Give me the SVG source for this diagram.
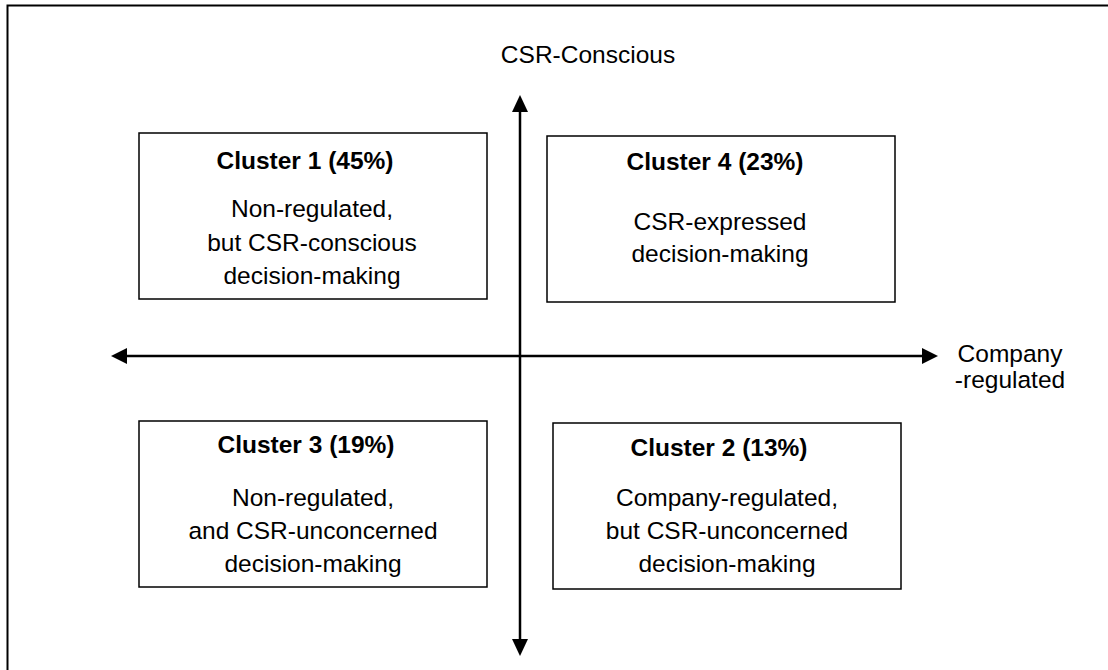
<svg xmlns="http://www.w3.org/2000/svg" width="1108" height="670" viewBox="0 0 1108 670">
<defs>
<style>
.box{fill:#fff;stroke:#000;stroke-width:1.5}
.t{font-family:"Liberation Sans",Arial,sans-serif;font-size:24.5px;fill:#000;text-anchor:middle}
.b{font-weight:bold}
.ax{stroke:#000;stroke-width:2.5;fill:none}
.ah{fill:#000}
</style>
</defs>
<rect x="0" y="0" width="1108" height="670" fill="#fff"/>
<path d="M7.5,670 V5.5 H1108" fill="none" stroke="#000" stroke-width="2"/>
<g id="connectors">
<line class="ax" x1="520" y1="110" x2="520" y2="641"/>
<polygon class="ah" points="520,95 512,112 528,112"/>
<polygon class="ah" points="520,656 512,639 528,639"/>
<line class="ax" x1="126" y1="356" x2="923" y2="356"/>
<polygon class="ah" points="111,356 127,348 127,364"/>
<polygon class="ah" points="938,356 922,348 922,364"/>
</g>
<g id="label-top"><text class="t" x="588" y="63">CSR-Conscious</text></g>
<g id="label-right"><text class="t" x="1010" y="362">Company</text><text class="t" x="1010" y="388">-regulated</text></g>
<g id="cluster1">
<rect class="box" x="139" y="133" width="348" height="166"/>
<text class="t b" x="305" y="169">Cluster 1 (45%)</text>
<text class="t" x="312" y="217">Non-regulated,</text>
<text class="t" x="312" y="251">but CSR-conscious</text>
<text class="t" x="312" y="284">decision-making</text>
</g>
<g id="cluster4">
<rect class="box" x="547" y="136" width="348" height="166"/>
<text class="t b" x="715" y="170">Cluster 4 (23%)</text>
<text class="t" x="720" y="230">CSR-expressed</text>
<text class="t" x="720" y="262">decision-making</text>
</g>
<g id="cluster3">
<rect class="box" x="139" y="421" width="348" height="166"/>
<text class="t b" x="306" y="453">Cluster 3 (19%)</text>
<text class="t" x="313" y="506">Non-regulated,</text>
<text class="t" x="313" y="539">and CSR-unconcerned</text>
<text class="t" x="313" y="572">decision-making</text>
</g>
<g id="cluster2">
<rect class="box" x="553" y="423" width="348" height="166"/>
<text class="t b" x="719" y="456">Cluster 2 (13%)</text>
<text class="t" x="727" y="506">Company-regulated,</text>
<text class="t" x="727" y="539">but CSR-unconcerned</text>
<text class="t" x="727" y="572">decision-making</text>
</g>
</svg>
